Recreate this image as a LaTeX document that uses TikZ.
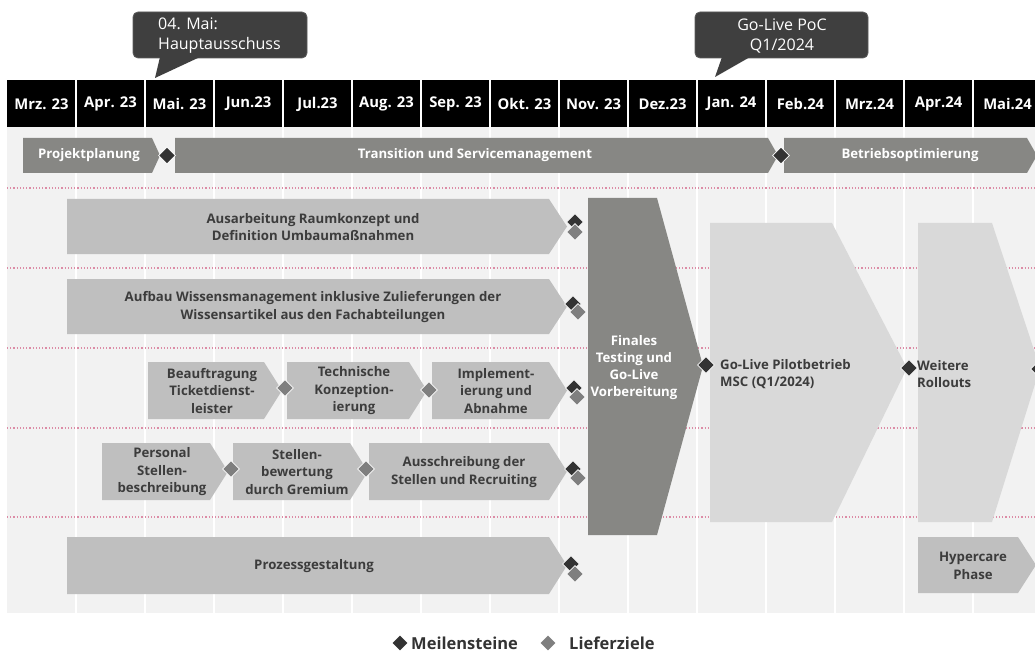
\documentclass[tikz,border=0pt]{standalone}
\usepackage{fontspec}
\setmainfont{Open Sans}
\usetikzlibrary{shapes.geometric}

\definecolor{bggrey}{HTML}{F2F2F2}
\definecolor{phasegrey}{HTML}{878784}
\definecolor{taskgrey}{HTML}{BFBFBF}
\definecolor{pilotgrey}{HTML}{D9D9D9}
\definecolor{milegrey}{HTML}{333333}
\definecolor{delivgrey}{HTML}{7F7F7F}
\definecolor{bubblegrey}{HTML}{3F3F3F}
\definecolor{bubbleedge}{HTML}{5C5C5C}
\definecolor{dotpink}{HTML}{DC8CA6}
\definecolor{taskink}{HTML}{3C3C3C}

\tikzset{
  monthlabel/.style={text=white,font=\bfseries\fontsize{14.8}{16}\selectfont},
  phaselabel/.style={text=white,font=\bfseries\fontsize{13.2}{15}\selectfont},
  tasklabel/.style={text=taskink,align=center,inner sep=0pt,font=\bfseries\fontsize{13.2}{17.5}\selectfont},
  milestone/.style={diamond,fill=milegrey,draw=white,line width=0.6pt,inner sep=0pt,minimum width=17pt,minimum height=17pt},
  delivery/.style={milestone,fill=delivgrey},
  bubbletext/.style={text=white,inner sep=0pt,font=\fontsize{16}{20}\selectfont},
}

\begin{document}
\begin{tikzpicture}[x=1pt,y=-1pt]
\useasboundingbox (0,0) rectangle (1035,652);
\clip (0,0) rectangle (1035,652);
\fill[white] (0,0) rectangle (1035,652);

% callouts
\fill[bubblegrey,draw=bubbleedge,line width=0.8pt,rounded corners=5pt] (133,12) rectangle (307,58);
\fill[bubblegrey] (160,57) -- (200,57) -- (155,78) -- cycle;
\node[bubbletext,anchor=west,align=left] (hauptausschuss) at (158,36) {04. Mai:\\Hauptausschuss};
\fill[bubblegrey,draw=bubbleedge,line width=0.8pt,rounded corners=5pt] (695,12) rectangle (868,58);
\fill[bubblegrey] (722,57) -- (750,57) -- (715,77) -- cycle;
\node[bubbletext,align=center] (golivepoc) at (782,36) {Go-Live PoC\\Q1/2024};

% month header and background
\fill[black] (7,80) rectangle (1035,127);
\fill[bggrey] (7,127) rectangle (1035,613);
\draw[white,line width=1.5pt] (76,80) -- (76,613);
\draw[white,line width=1.5pt] (145,80) -- (145,613);
\draw[white,line width=1.5pt] (214,80) -- (214,613);
\draw[white,line width=1.5pt] (283,80) -- (283,613);
\draw[white,line width=1.5pt] (352,80) -- (352,613);
\draw[white,line width=1.5pt] (421,80) -- (421,613);
\draw[white,line width=1.5pt] (490,80) -- (490,613);
\draw[white,line width=1.5pt] (559,80) -- (559,613);
\draw[white,line width=1.5pt] (628,80) -- (628,613);
\draw[white,line width=1.5pt] (697,80) -- (697,613);
\draw[white,line width=1.5pt] (766,80) -- (766,613);
\draw[white,line width=1.5pt] (835,80) -- (835,613);
\draw[white,line width=1.5pt] (904,80) -- (904,613);
\draw[white,line width=1.5pt] (973,80) -- (973,613);
\node[monthlabel] (mrz23) at (41.5,104) {Mrz. 23};
\node[monthlabel] (apr23) at (110.5,104) {Apr. 23};
\node[monthlabel] (mai23) at (179.5,104) {Mai. 23};
\node[monthlabel] (jun23) at (248.5,104) {Jun.23};
\node[monthlabel] (jul23) at (317.5,104) {Jul.23};
\node[monthlabel] (aug23) at (386.5,104) {Aug. 23};
\node[monthlabel] (sep23) at (455.5,104) {Sep. 23};
\node[monthlabel] (okt23) at (524.5,104) {Okt. 23};
\node[monthlabel] (nov23) at (593.5,104) {Nov. 23};
\node[monthlabel] (dez23) at (662.5,104) {Dez.23};
\node[monthlabel] (jan24) at (731.5,104) {Jan. 24};
\node[monthlabel] (feb24) at (800.5,104) {Feb.24};
\node[monthlabel] (mrz24) at (869.5,104) {Mrz.24};
\node[monthlabel] (apr24) at (938.5,104) {Apr.24};
\node[monthlabel] (mai24) at (1007.5,104) {Mai.24};

% row separators
\draw[dotpink,dotted,line width=1.2pt] (7,188) -- (1035,188);
\draw[dotpink,dotted,line width=1.2pt] (7,268) -- (1035,268);
\draw[dotpink,dotted,line width=1.2pt] (7,348) -- (1035,348);
\draw[dotpink,dotted,line width=1.2pt] (7,428) -- (1035,428);
\draw[dotpink,dotted,line width=1.2pt] (7,517) -- (1035,517);

% phases
\fill[phasegrey] (23,138) -- (152,138) -- (160,155.5) -- (152,173) -- (23,173) -- cycle;
\node[phaselabel] (projekt) at (89,155.5) {Projektplanung};
\fill[phasegrey] (175,138) -- (768,138) -- (778,155.5) -- (768,173) -- (175,173) -- cycle;
\node[phaselabel] (transition) at (475,155.5) {Transition und Servicemanagement};
\fill[phasegrey] (784,138) -- (1027,138) -- (1037,155.5) -- (1027,173) -- (784,173) -- cycle;
\node[phaselabel] (betrieb) at (910,155.5) {Betriebsoptimierung};
\node[milestone] (msProjekt) at (167,155.5) {};
\node[milestone] (msBetrieb) at (781,155.5) {};

% work packages
\fill[taskgrey] (67,199) -- (549,199) -- (567,226.5) -- (549,254) -- (67,254) -- cycle;
\node[tasklabel] (raum) at (313,227) {Ausarbeitung Raumkonzept und\\Definition Umbaumaßnahmen};
\fill[taskgrey] (67,279) -- (549,279) -- (567,306.5) -- (549,334) -- (67,334) -- cycle;
\node[tasklabel] (wissen) at (313,307) {Aufbau Wissensmanagement inklusive Zulieferungen der\\Wissensartikel aus den Fachabteilungen};
\fill[taskgrey] (148,362) -- (264,362) -- (282,390.5) -- (264,419) -- (148,419) -- cycle;
\node[tasklabel] (beauftragung) at (212,391) {Beauftragung\\Ticketdienst-\\leister};
\fill[taskgrey] (287,362) -- (409,362) -- (427,390.5) -- (409,419) -- (287,419) -- cycle;
\node[tasklabel] (technisch) at (354,391) {Technische\\Konzeption-\\ierung};
\fill[taskgrey] (432,362) -- (549,362) -- (567,390.5) -- (549,419) -- (432,419) -- cycle;
\node[tasklabel] (implement) at (496,391) {Implement-\\ierung und\\Abnahme};
\node[delivery] (dlBeauftragung) at (285,388) {};
\node[delivery] (dlTechnisch) at (429,390) {};
\fill[taskgrey] (102,443) -- (210,443) -- (228,471.5) -- (210,500) -- (102,500) -- cycle;
\node[tasklabel] (personal) at (162,472) {Personal\\Stellen-\\beschreibung};
\fill[taskgrey] (233,443) -- (350,443) -- (368,471.5) -- (350,500) -- (233,500) -- cycle;
\node[tasklabel] (bewertung) at (297,472) {Stellen-\\bewertung\\durch Gremium};
\fill[taskgrey] (369,443) -- (549,443) -- (567,471.5) -- (549,500) -- (369,500) -- cycle;
\node[tasklabel] (ausschreibung) at (464,472) {Ausschreibung der\\Stellen und Recruiting};
\node[delivery] (dlPersonal) at (231,469) {};
\node[delivery] (dlBewertung) at (366,469) {};
\fill[taskgrey] (67,537) -- (549,537) -- (567,565.5) -- (549,594) -- (67,594) -- cycle;
\node[tasklabel] (prozess) at (314,566) {Prozessgestaltung};

% end of work packages
\node[milestone] (msRaum) at (575,222) {};
\node[delivery] (dlRaum) at (575,232) {};
\node[milestone] (msWissen) at (573,304) {};
\node[delivery] (dlWissen) at (578,312) {};
\node[milestone] (msImplement) at (574,388) {};
\node[delivery] (dlImplement) at (577,397) {};
\node[milestone] (msAusschreibung) at (573,469) {};
\node[delivery] (dlAusschreibung) at (578,478) {};
\node[milestone] (msProzess) at (571,564) {};
\node[delivery] (dlProzess) at (575,574) {};

% go-live
\fill[phasegrey] (588,198) -- (657,198) -- (703,366) -- (657,535) -- (588,535) -- cycle;
\node[phaselabel,align=center,font=\bfseries\fontsize{13.2}{17}\selectfont] (finales) at (634,368) {Finales\\Testing und\\Go-Live\\Vorbereitung};
\fill[pilotgrey] (710,223) -- (832,223) -- (907,368) -- (832,522) -- (710,522) -- cycle;
\node[milestone] (msGoLive) at (706,365) {};
\node[tasklabel,anchor=west,align=left] (pilot) at (720,374) {Go-Live Pilotbetrieb\\MSC (Q1/2024)};
\fill[pilotgrey] (918,223) -- (992,223) -- (1040,368) -- (992,522) -- (918,522) -- cycle;
\node[milestone] (msRollout) at (909,368) {};
\node[tasklabel,anchor=west,align=left] (rollouts) at (917,374) {Weitere\\Rollouts};
\node[milestone] (msWeiter) at (1039,369) {};
\fill[taskgrey] (918,537) -- (1018,537) -- (1036,565) -- (1018,593) -- (918,593) -- cycle;
\node[tasklabel] (hypercare) at (973,566) {Hypercare\\Phase};

% legend
\node[milestone,minimum width=15pt,minimum height=15pt,draw=none] (legMeilen) at (400,643) {};
\node[tasklabel,text=milegrey,anchor=west,font=\bfseries\fontsize{16.5}{18}\selectfont] (meilensteine) at (411,643) {Meilensteine};
\node[delivery,minimum width=15pt,minimum height=15pt,draw=none] (legLiefer) at (548,643) {};
\node[tasklabel,text=milegrey,anchor=west,font=\bfseries\fontsize{16.5}{18}\selectfont] (lieferziele) at (569,643) {Lieferziele};
\end{tikzpicture}
\end{document}
